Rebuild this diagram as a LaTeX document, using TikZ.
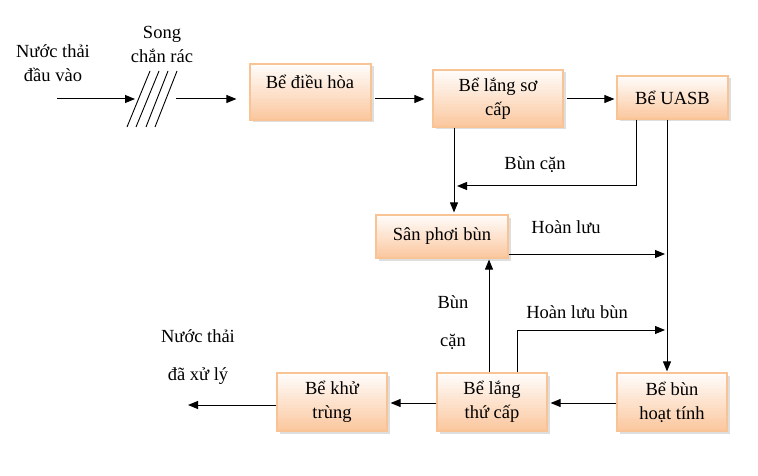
\documentclass[tikz,border=0pt]{standalone}
\usepackage{fontspec}
\setmainfont{Liberation Serif}
\newfontfamily\tnr{Liberation Serif}
\usetikzlibrary{arrows.meta,shadows,calc}
\definecolor{boxedge}{RGB}{248,196,150}
\definecolor{boxbot}{RGB}{251,200,160}
\definecolor{shadowc}{RGB}{190,190,190}
\newcommand\fsz{\tnr\fontsize{18.5}{24}\selectfont}
\begin{document}
\begin{tikzpicture}[x=1pt,y=-1pt,
  box/.style={draw=boxedge, line width=1.2pt, fill=white,
    drop shadow={shadow xshift=2.5pt,shadow yshift=-2.5pt,fill=shadowc,draw=none},
    path picture={
      \foreach \i in {0,...,19}{
        \pgfmathtruncatemacro\p{\i*5+5}
        \fill[boxbot!\p!white]
          ($(path picture bounding box.north west)!{\i/20}!(path picture bounding box.south west)$)
          rectangle
          ($(path picture bounding box.north east)!{(\i+1.3)/20}!(path picture bounding box.south east)$);
      }},
    align=center, inner sep=0pt, font=\fsz},
  lbl/.style={align=center, inner sep=0pt, font=\fsz},
  arr/.style={-{Triangle[length=10pt,width=8pt]}, line width=1pt},
  ln/.style={line width=1pt}]
\fill[white] (0,0) rectangle (758,476);
\useasboundingbox (0,0) rectangle (758,476);

% boxes
\node[box,minimum width=121,minimum height=56] (dh) at (310.5,92) {};
\node[lbl] (dht) at (310,82) {Bể điều hòa};
\node[box,minimum width=130,minimum height=57] (ls1) at (498,98.5) {Bể lắng sơ\\cấp};
\node[box,minimum width=111,minimum height=43] (uasb) at (672.5,97.5) {Bể UASB};
\node[box,minimum width=132,minimum height=43] (sp) at (442,236.5) {Sân phơi bùn};
\node[box,minimum width=110,minimum height=58] (kt) at (332,402) {Bể khử\\trùng};
\node[box,minimum width=110,minimum height=58] (lt2) at (492,402) {Bể lắng\\thứ cấp};
\node[box,minimum width=110,minimum height=58] (bht) at (672,402) {Bể bùn\\hoạt tính};

% labels
\node[lbl] (inl) at (53,63) {Nước thải\\đầu vào};
\node[lbl] (song) at (162,44) {Song\\chắn rác};
\node[lbl] (bc1) at (535,165) {Bùn cặn};
\node[lbl] (hl) at (566,227) {Hoàn lưu};
\node[lbl] (bc2a) at (453,302) {Bùn};
\node[lbl] (bc2b) at (453,342) {cặn};
\node[lbl] (hlb) at (577,312) {Hoàn lưu bùn};
\node[lbl] (out1) at (198,336) {Nước thải};
\node[lbl] (out2) at (198,376) {đã xử lý};

% coordinates
\coordinate (inS) at (57,99);
\coordinate (inE) at (135,99);
\coordinate (scrOut) at (176,99);
\coordinate (rowA) at (0,99);
\coordinate (c1) at (454,0);
\coordinate (c2) at (636,186);
\coordinate (bcEnd) at (457,186);
\coordinate (c3) at (667,0);
\coordinate (hlEnd) at (665,254);
\coordinate (c4) at (489,0);
\coordinate (hlbC) at (517,330);
\coordinate (hlbEnd) at (665,330);
\coordinate (rowB) at (0,403);
\coordinate (outEnd) at (188,405);

% screen
\foreach \b/\t in {127/150,136/159,146/168,155/177}
  \draw[line width=0.9pt] (\b,127) -- (\t,71);

% connectors
\draw[arr] (inS) -- (inE);
\draw[arr, shorten >=13pt] (scrOut) -- (dh.west |- scrOut);
\draw[arr, shorten <=3pt, shorten >=8pt] (dh.east |- rowA) -- (ls1.west |- rowA);
\draw[arr, shorten <=3pt, shorten >=2pt] (ls1.east |- rowA) -- (uasb.west |- rowA);
\draw[arr, shorten >=2pt] (ls1.south -| c1) -- (sp.north -| c1);
\draw[arr] (uasb.south -| c2) -- (c2) -- (bcEnd);
\draw[arr, shorten >=1pt] (uasb.south -| c3) -- (bht.north -| c3);
\draw[arr] (sp.east |- hlEnd) -- (hlEnd);
\draw[arr, shorten >=1pt] (lt2.north -| c4) -- (sp.south -| c4);
\draw[arr] (lt2.north -| hlbC) -- (hlbC) -- (hlbEnd);
\draw[arr, shorten >=3pt] (bht.west |- rowB) -- (lt2.east |- rowB);
\draw[arr, shorten >=3pt] (lt2.west |- rowB) -- (kt.east |- rowB);
\draw[arr] (kt.west |- outEnd) -- (outEnd);
\end{tikzpicture}
\end{document}
